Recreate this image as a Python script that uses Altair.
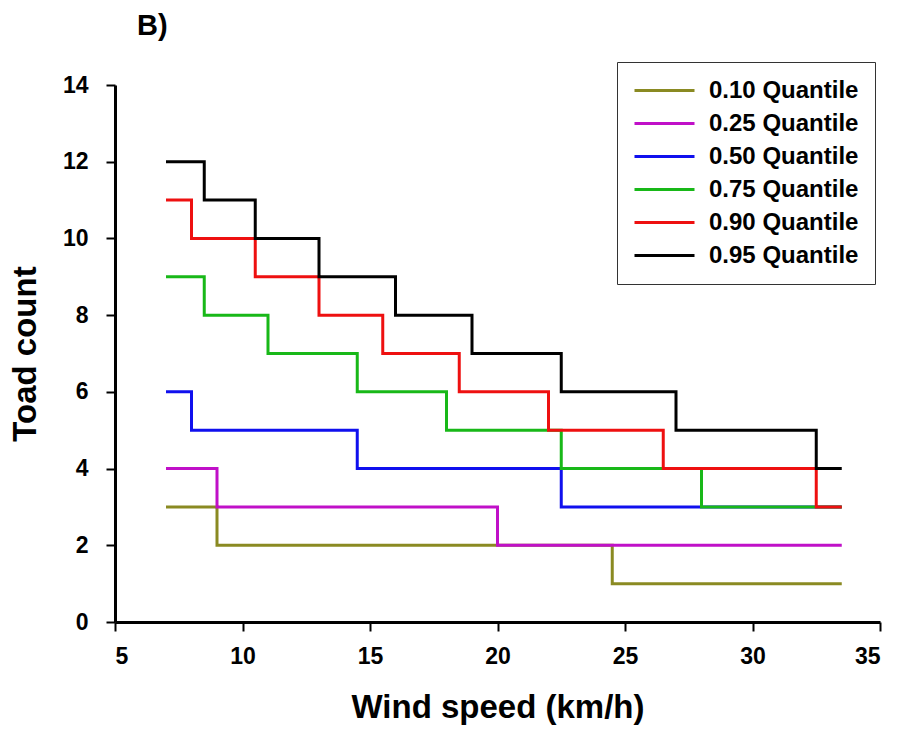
import altair as alt
import pandas as pd

quantiles = ["0.10 Quantile", "0.25 Quantile", "0.50 Quantile",
             "0.75 Quantile", "0.90 Quantile", "0.95 Quantile"]
colors = ["#8a8a22", "#c010c8", "#1010ee", "#18b818", "#ee1010", "#000000"]

x_q10 = [7, 9, 24.5, 33.5]
y_q10 = [3, 2, 1, 1]
x_q25 = [7, 9, 20, 33.5]
y_q25 = [4, 3, 2, 2]
x_q50 = [7, 8, 14.5, 22.5, 33.5]
y_q50 = [6, 5, 4, 3, 3]
x_q75 = [7, 8.5, 11, 14.5, 18, 22.5, 28, 33.5]
y_q75 = [9, 8, 7, 6, 5, 4, 3, 3]
x_q90 = [7, 8, 10.5, 13, 15.5, 18.5, 22, 26.5, 32.5, 33.5]
y_q90 = [11, 10, 9, 8, 7, 6, 5, 4, 3, 3]
x_q95 = [7, 8.5, 10.5, 13, 16, 19, 22.5, 27, 32.5, 33.5]
y_q95 = [12, 11, 10, 9, 8, 7, 6, 5, 4, 4]

x_ticks = [5, 10, 15, 20, 25, 30, 35]
y_ticks = [0, 2, 4, 6, 8, 10, 12, 14]

series = [(x_q10, y_q10), (x_q25, y_q25), (x_q50, y_q50),
          (x_q75, y_q75), (x_q90, y_q90), (x_q95, y_q95)]
rows = []
for i, (q, (xs, ys)) in enumerate(zip(quantiles, series)):
    for j, (xv, yv) in enumerate(zip(xs, ys)):
        rows.append({"q": q, "order": i, "idx": j, "x": xv, "y": yv})
df = pd.DataFrame(rows)

FONT = "Liberation Sans"

chart = alt.Chart(df).mark_line(interpolate="step-after", strokeWidth=3).encode(
    x=alt.X("x:Q", scale=alt.Scale(domain=[5, 35], nice=False, zero=False),
            axis=alt.Axis(values=x_ticks, title="Wind speed (km/h)", format="d")),
    y=alt.Y("y:Q", scale=alt.Scale(domain=[0, 14], nice=False),
            axis=alt.Axis(values=y_ticks, title="Toad count", format="d")),
    color=alt.Color("q:N", scale=alt.Scale(domain=quantiles, range=colors),
                    legend=alt.Legend(title=None, orient="none", legendX=502, legendY=-23,
                                      symbolType="stroke", symbolStrokeWidth=3,
                                      symbolSize=3600, labelFontSize=24, labelFont=FONT,
                                      labelFontWeight="bold", labelColor="black",
                                      strokeColor="#333333", fillColor="white",
                                      clipHeight=25, padding=16, rowPadding=8,
                                      labelOffset=13)),
    order=alt.Order("idx:Q"),
    detail="order:N",
).properties(
    width=765, height=537,
    title=alt.TitleParams("B)", anchor="start", fontSize=29, font=FONT, fontWeight="bold",
                          frame="group", dx=22, offset=21, color="black"),
    padding={"left": 115, "top": 85, "right": 22, "bottom": 114},
    autosize=alt.AutoSizeParams(type="none"),
).configure_view(stroke=None).configure_axis(
    domainColor="black", domainWidth=3, tickColor="black", tickWidth=2, tickSize=9,
    grid=False, labelFont=FONT, labelFontSize=23, labelFontWeight="bold", labelColor="black",
    titleFont=FONT, titleFontSize=33, titleFontWeight="bold", titleColor="black",
).configure_axisX(labelPadding=14, titlePadding=23).configure_axisY(labelPadding=18, titlePadding=20)

chart.save("out.html", embed_options={"renderer": "svg", "actions": False})
